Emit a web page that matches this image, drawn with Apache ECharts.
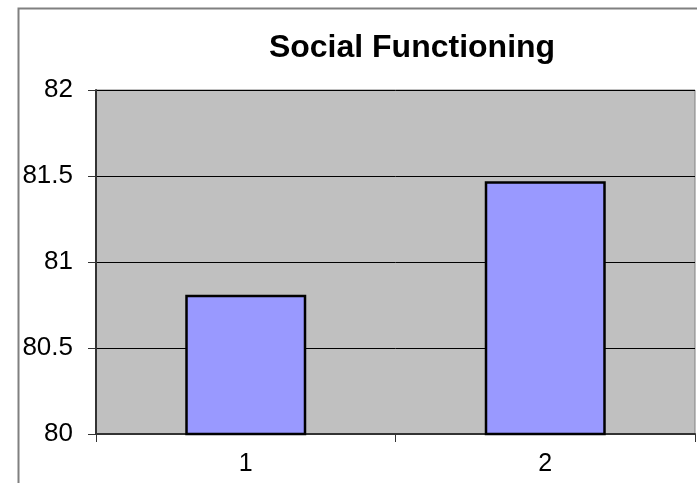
<!DOCTYPE html>
<html>
<head>
<meta charset="utf-8">
<script src="https://cdn.jsdelivr.net/npm/echarts@6/dist/echarts.min.js"></script>
<style>
  html, body { margin: 0; padding: 0; background: #ffffff; }
  #chart { width: 697px; height: 483px; }
</style>
</head>
<body>
<div id="chart"></div>
<script>
// Chart data
var chartTitle = 'Social Functioning';
var categories = ['1', '2'];
var scores = [80.81, 81.47];
var yTicks = { min: 80, max: 82, step: 0.5 };

var chart = echarts.init(document.getElementById('chart'), null, { renderer: 'canvas' });

var option = {
  animation: false,
  backgroundColor: '#ffffff',
  title: {
    text: chartTitle,
    left: 407,
    top: 27,
    textAlign: 'center',
    textStyle: {
      fontFamily: 'Liberation Sans, Arial, sans-serif',
      fontSize: 32,
      fontWeight: 'bold',
      color: '#000000'
    }
  },
  graphic: [
    {
      // outer chart frame, running past the right and bottom edges
      type: 'rect',
      left: 16,
      top: 6,
      shape: { width: 1000, height: 1000 },
      style: { fill: 'none', stroke: '#808080', lineWidth: 2 },
      silent: true
    }
  ],
  grid: {
    left: 96,
    right: 2,
    top: 90,
    bottom: 49,
    show: true,
    backgroundColor: '#c0c0c0',
    borderColor: '#808080',
    borderWidth: 1
  },
  xAxis: {
    type: 'category',
    data: categories,
    axisLine: { show: true, lineStyle: { color: '#333333', width: 2 } },
    axisTick: { show: true, length: 8, lineStyle: { color: '#333333', width: 1 } },
    axisLabel: {
      margin: 18,
      fontFamily: 'Liberation Sans, Arial, sans-serif',
      fontSize: 25,
      color: '#000000'
    },
    splitLine: { show: false }
  },
  yAxis: {
    type: 'value',
    min: yTicks.min,
    max: yTicks.max,
    interval: yTicks.step,
    axisLine: { show: true, lineStyle: { color: '#333333', width: 2 } },
    axisTick: { show: true, length: 8, lineStyle: { color: '#333333', width: 1 } },
    axisLabel: {
      margin: 23,
      fontFamily: 'Liberation Sans, Arial, sans-serif',
      fontSize: 26,
      color: '#000000'
    },
    splitLine: { show: true, lineStyle: { color: '#000000', width: 1 } }
  },
  series: [
    {
      type: 'bar',
      data: scores,
      barWidth: 121,
      itemStyle: {
        color: '#9999ff',
        borderColor: '#000000',
        borderWidth: 2.5
      }
    }
  ]
};

chart.setOption(option);
</script>
</body>
</html>
